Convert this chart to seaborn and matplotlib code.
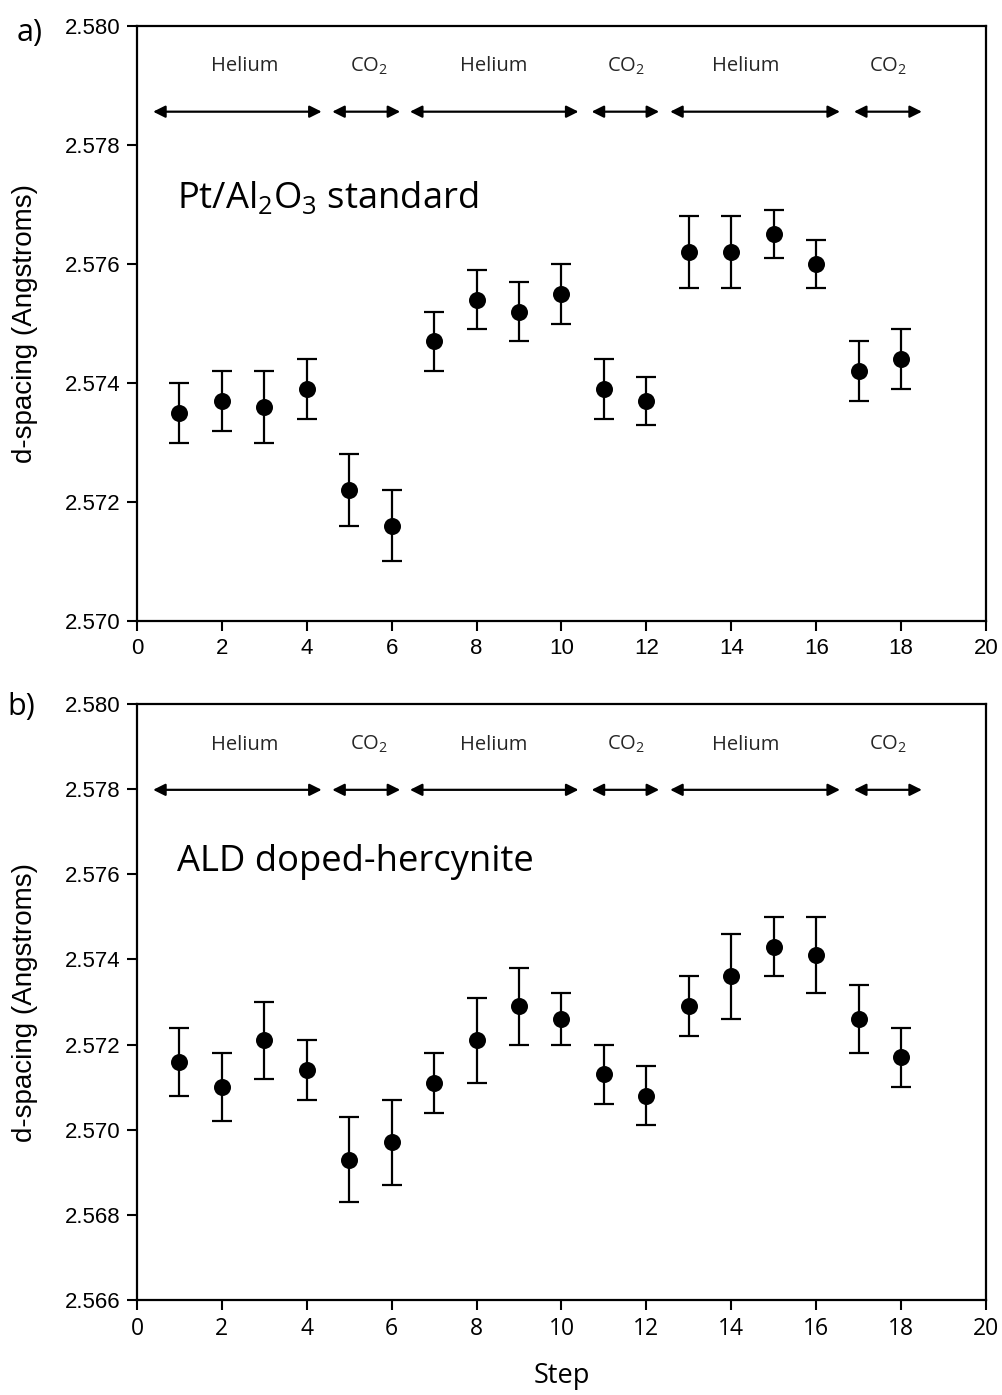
import numpy as np
import pandas as pd
import matplotlib
matplotlib.use("Agg")
import matplotlib.pyplot as plt
import seaborn as sns

# ---------------- data ----------------
steps = list(range(1, 19))
pt_dspacing = [2.5735, 2.5737, 2.5736, 2.5739, 2.5722, 2.5716, 2.5747, 2.5754, 2.5752,
               2.5755, 2.5739, 2.5737, 2.5762, 2.5762, 2.5765, 2.5760, 2.5742, 2.5744]
pt_err = [0.0005, 0.0005, 0.0006, 0.0005, 0.0006, 0.0006, 0.0005, 0.0005, 0.0005,
          0.0005, 0.0005, 0.0004, 0.0006, 0.0006, 0.0004, 0.0004, 0.0005, 0.0005]
ald_dspacing = [2.5716, 2.5710, 2.5721, 2.5714, 2.5693, 2.5697, 2.5711, 2.5721, 2.5729,
                2.5726, 2.5713, 2.5708, 2.5729, 2.5736, 2.5743, 2.5741, 2.5726, 2.5717]
ald_err = [0.0008, 0.0008, 0.0009, 0.0007, 0.0010, 0.0010, 0.0007, 0.0010, 0.0009,
           0.0006, 0.0007, 0.0007, 0.0007, 0.0010, 0.0007, 0.0009, 0.0008, 0.0007]

gas_labels = ["Helium", "CO$_\\mathregular{2}$", "Helium", "CO$_\\mathregular{2}$", "Helium", "CO$_\\mathregular{2}$"]
gas_start = [0.38, 4.60, 6.43, 10.71, 12.56, 16.89]
gas_end = [4.35, 6.20, 10.40, 12.30, 16.56, 18.49]
gas_label_x = [2.54, 5.47, 8.41, 11.52, 14.35, 17.69]

x_ticks = list(range(0, 21, 2))
yticks_a = [2.570, 2.572, 2.574, 2.576, 2.578, 2.580]
yticks_b = [2.566, 2.568, 2.570, 2.572, 2.574, 2.576, 2.578, 2.580]

# ---------------- style ----------------
sns.set_style("ticks")
plt.rcParams['font.family'] = ['Liberation Sans', 'DejaVu Sans']
plt.rcParams['text.color'] = 'black'
plt.rcParams['axes.labelcolor'] = 'black'
plt.rcParams['xtick.color'] = 'black'
plt.rcParams['ytick.color'] = 'black'
plt.rcParams['axes.linewidth'] = 1.6
plt.rcParams['xtick.major.width'] = 1.5
plt.rcParams['ytick.major.width'] = 1.5
plt.rcParams['xtick.major.size'] = 7
plt.rcParams['ytick.major.size'] = 7
plt.rcParams['xtick.direction'] = 'out'
plt.rcParams['ytick.direction'] = 'out'
plt.rcParams['axes.edgecolor'] = 'black'

W, H = 1003, 1395
fig = plt.figure(figsize=(W / 100, H / 100), dpi=100)
ax_a = fig.add_axes([137 / W, 1 - 621 / H, (986 - 137) / W, (621 - 26) / H])
ax_b = fig.add_axes([137 / W, 1 - 1300 / H, (986 - 137) / W, (1300 - 704) / H])

label_font = ['Open Sans', 'DejaVu Sans']


def draw(ax, yvals, yerr, yticks, title, panel):
    df = pd.DataFrame({"Step": steps, "d": yvals, "err": yerr})
    ax.errorbar(df["Step"], df["d"], yerr=df["err"], fmt='none', ecolor='black',
                elinewidth=1.6, capsize=7, capthick=1.6, zorder=2)
    sns.scatterplot(data=df, x="Step", y="d", ax=ax, color='black', s=150,
                    edgecolor='black', linewidth=0, zorder=3, legend=False)
    ax.set_xlim(0, 20)
    ax.set_ylim(yticks[0], yticks[-1])
    ax.set_xticks(x_ticks)
    ax.set_yticks(yticks)
    ax.set_yticklabels([f"{v:.3f}" for v in yticks])
    ax.tick_params(axis='both', labelsize=16, colors='black', pad=5)
    for s in ax.spines.values():
        s.set_visible(True)
        s.set_color('black')
    ax.set_ylabel("d-spacing (Angstroms)", fontsize=20)
    ax.yaxis.set_label_coords(-0.1166, 0.5)
    ax.set_xlabel("")
    tr = ax.get_xaxis_transform()
    for lab, x0, x1, xl in zip(gas_labels, gas_start, gas_end, gas_label_x):
        ax.annotate("", xy=(x0, 0.856), xytext=(x1, 0.856), xycoords=tr, textcoords=tr,
                    arrowprops=dict(arrowstyle='<|-|>', color='black', lw=1.6,
                                    mutation_scale=18, shrinkA=0, shrinkB=0))
        ax.text(xl, 0.932, lab, transform=tr, ha='center', va='center',
                fontsize=14.5, family=label_font, color='#262626')
    ax.text(0.047, title[1], title[0], transform=ax.transAxes, ha='left', va='center',
            fontsize=26.2, family=label_font)
    fig.text(panel[1], panel[2], panel[0], ha='left', va='center', fontsize=22,
             family=label_font)


draw(ax_a, pt_dspacing, pt_err, yticks_a,
     ("Pt/Al$_\\mathregular{2}$O$_\\mathregular{3}$ standard", 0.710), ("a)", 17 / W, 1 - 33 / H))
draw(ax_b, ald_dspacing, ald_err, yticks_b,
     ("ALD doped-hercynite", 0.735), ("b)", 7 / W, 1 - 707 / H))

for t in ax_b.get_xticklabels():
    t.set_fontfamily(label_font)
    t.set_fontsize(16.5)

ax_b.set_xlabel("Step", fontsize=19.5, family=label_font)
ax_b.xaxis.set_label_coords(0.5, -0.104)

fig.savefig("out.png", dpi=100, facecolor='white')
